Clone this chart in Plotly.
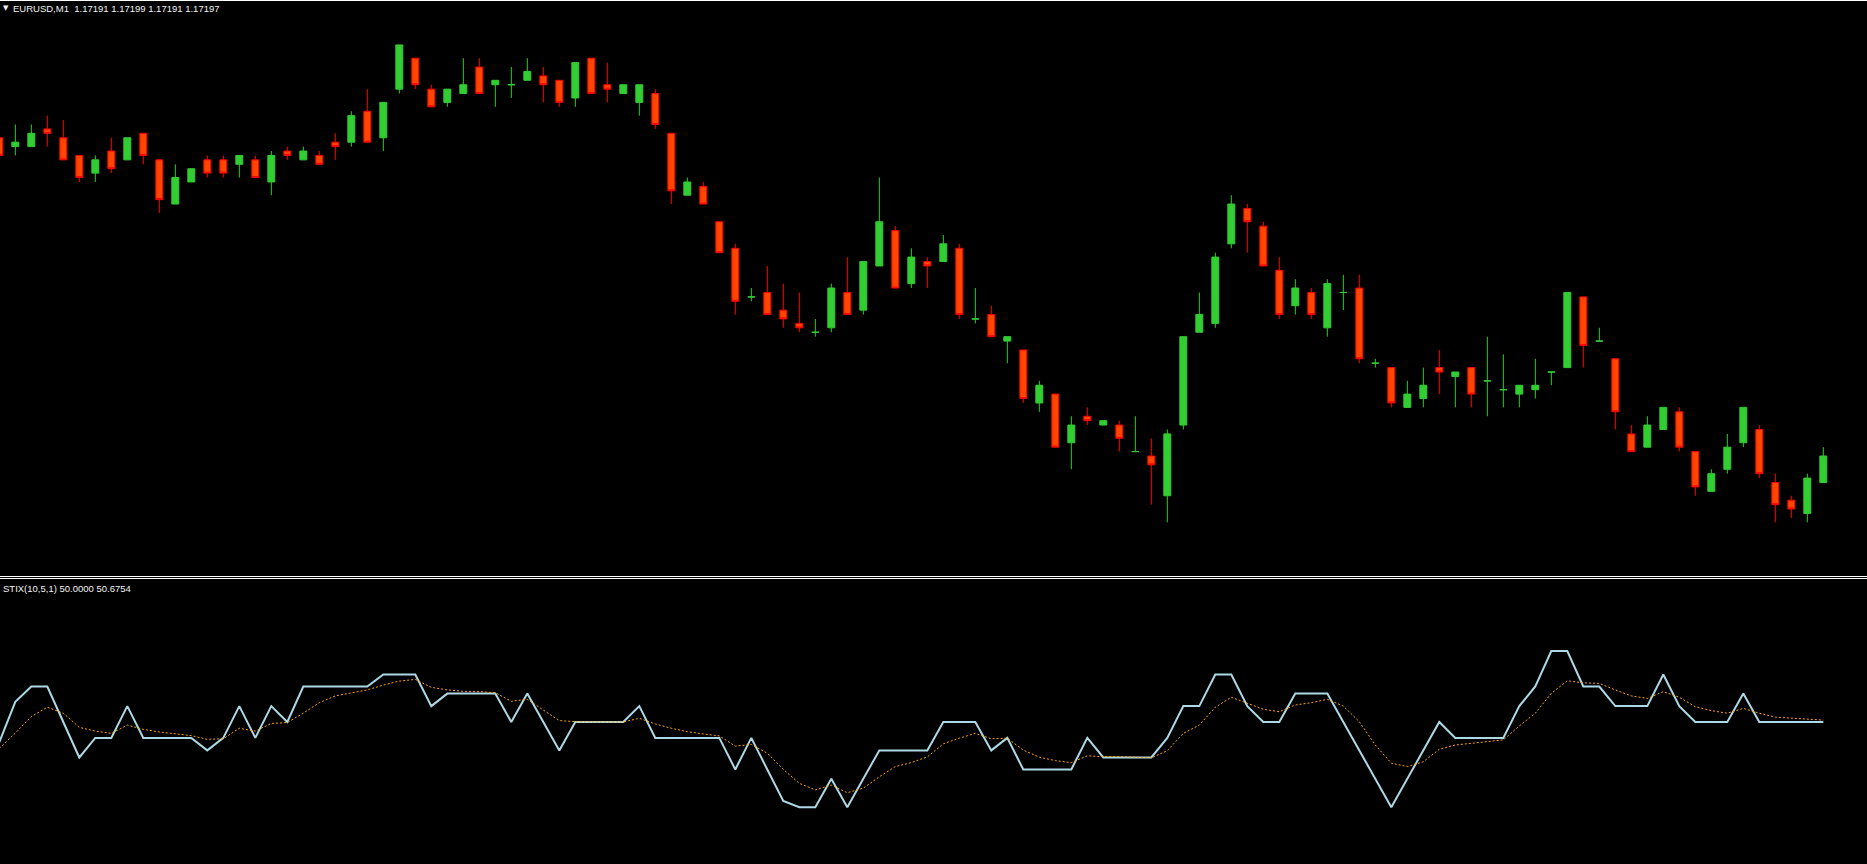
import plotly.graph_objects as go

# ---------------- data (EURUSD M1) ----------------
open_ = [1.17269, 1.17267, 1.17267, 1.17271, 1.17269, 1.17265, 1.17261, 1.17266, 1.17264, 1.17270,
         1.17264, 1.17254, 1.17259, 1.17264, 1.17264, 1.17263, 1.17264, 1.17259, 1.17266, 1.17264,
         1.17265, 1.17268, 1.17268, 1.17275, 1.17269, 1.17280, 1.17287, 1.17280, 1.17277, 1.17279,
         1.17285, 1.17281, 1.17281, 1.17282, 1.17283, 1.17282, 1.17278, 1.17287, 1.17281, 1.17279,
         1.17277, 1.17279, 1.17270, 1.17256, 1.17258, 1.17250, 1.17244, 1.17233, 1.17234, 1.17230,
         1.17227, 1.17225, 1.17226, 1.17234, 1.17230, 1.17240, 1.17248, 1.17236, 1.17241, 1.17241,
         1.17244, 1.17228, 1.17229, 1.17223, 1.17221, 1.17209, 1.17211, 1.17200, 1.17206, 1.17204,
         1.17204, 1.17198, 1.17197, 1.17188, 1.17204, 1.17225, 1.17227, 1.17245, 1.17253, 1.17249,
         1.17239, 1.17231, 1.17234, 1.17226, 1.17234, 1.17235, 1.17218, 1.17217, 1.17208, 1.17210,
         1.17217, 1.17215, 1.17217, 1.17214, 1.17212, 1.17211, 1.17212, 1.17216, 1.17217, 1.17233,
         1.17223, 1.17219, 1.17202, 1.17199, 1.17203, 1.17207, 1.17198, 1.17189, 1.17194, 1.17200,
         1.17203, 1.17191, 1.17187, 1.17184, 1.17191]

high = [1.17269, 1.17272, 1.17272, 1.17274, 1.17273, 1.17265, 1.17265, 1.17269, 1.17269, 1.17270,
        1.17264, 1.17263, 1.17262, 1.17265, 1.17265, 1.17265, 1.17265, 1.17266, 1.17267, 1.17267,
        1.17266, 1.17270, 1.17275, 1.17280, 1.17277, 1.17290, 1.17287, 1.17281, 1.17280, 1.17287,
        1.17287, 1.17282, 1.17285, 1.17287, 1.17285, 1.17282, 1.17286, 1.17287, 1.17286, 1.17281,
        1.17281, 1.17280, 1.17270, 1.17260, 1.17259, 1.17250, 1.17245, 1.17235, 1.17240, 1.17236,
        1.17234, 1.17228, 1.17236, 1.17242, 1.17241, 1.17260, 1.17249, 1.17244, 1.17242, 1.17247,
        1.17245, 1.17235, 1.17231, 1.17224, 1.17221, 1.17214, 1.17211, 1.17206, 1.17208, 1.17205,
        1.17205, 1.17206, 1.17201, 1.17203, 1.17224, 1.17234, 1.17243, 1.17256, 1.17254, 1.17250,
        1.17242, 1.17237, 1.17235, 1.17237, 1.17238, 1.17238, 1.17219, 1.17217, 1.17214, 1.17217,
        1.17221, 1.17216, 1.17217, 1.17224, 1.17220, 1.17213, 1.17219, 1.17216, 1.17234, 1.17233,
        1.17226, 1.17219, 1.17204, 1.17206, 1.17208, 1.17208, 1.17198, 1.17194, 1.17202, 1.17208,
        1.17204, 1.17193, 1.17188, 1.17193, 1.17199]

low = [1.17265, 1.17265, 1.17267, 1.17267, 1.17264, 1.17259, 1.17259, 1.17261, 1.17264, 1.17263,
       1.17252, 1.17254, 1.17259, 1.17260, 1.17260, 1.17260, 1.17260, 1.17256, 1.17264, 1.17264,
       1.17263, 1.17264, 1.17267, 1.17268, 1.17266, 1.17279, 1.17280, 1.17276, 1.17276, 1.17279,
       1.17279, 1.17276, 1.17278, 1.17282, 1.17277, 1.17276, 1.17276, 1.17279, 1.17277, 1.17279,
       1.17274, 1.17271, 1.17254, 1.17256, 1.17254, 1.17243, 1.17229, 1.17232, 1.17229, 1.17226,
       1.17225, 1.17224, 1.17225, 1.17229, 1.17229, 1.17240, 1.17235, 1.17235, 1.17235, 1.17241,
       1.17228, 1.17227, 1.17224, 1.17218, 1.17209, 1.17207, 1.17199, 1.17194, 1.17204, 1.17204,
       1.17198, 1.17198, 1.17186, 1.17182, 1.17203, 1.17225, 1.17226, 1.17244, 1.17243, 1.17240,
       1.17228, 1.17229, 1.17228, 1.17224, 1.17230, 1.17218, 1.17217, 1.17208, 1.17208, 1.17208,
       1.17211, 1.17208, 1.17208, 1.17206, 1.17208, 1.17208, 1.17210, 1.17213, 1.17217, 1.17217,
       1.17223, 1.17203, 1.17198, 1.17199, 1.17203, 1.17198, 1.17188, 1.17189, 1.17193, 1.17199,
       1.17192, 1.17182, 1.17183, 1.17182, 1.17191]

close = [1.17265, 1.17268, 1.17270, 1.17270, 1.17264, 1.17260, 1.17264, 1.17262, 1.17269, 1.17265,
         1.17255, 1.17260, 1.17262, 1.17261, 1.17261, 1.17265, 1.17260, 1.17265, 1.17265, 1.17266,
         1.17263, 1.17267, 1.17274, 1.17268, 1.17277, 1.17290, 1.17281, 1.17276, 1.17280, 1.17281,
         1.17279, 1.17282, 1.17281, 1.17284, 1.17281, 1.17277, 1.17286, 1.17279, 1.17280, 1.17281,
         1.17281, 1.17272, 1.17257, 1.17259, 1.17254, 1.17243, 1.17232, 1.17233, 1.17229, 1.17228,
         1.17226, 1.17225, 1.17235, 1.17229, 1.17241, 1.17250, 1.17235, 1.17242, 1.17240, 1.17245,
         1.17229, 1.17228, 1.17224, 1.17224, 1.17210, 1.17213, 1.17199, 1.17204, 1.17205, 1.17205,
         1.17201, 1.17198, 1.17195, 1.17202, 1.17224, 1.17229, 1.17242, 1.17254, 1.17250, 1.17240,
         1.17229, 1.17235, 1.17229, 1.17236, 1.17234, 1.17219, 1.17218, 1.17209, 1.17211, 1.17213,
         1.17216, 1.17216, 1.17211, 1.17214, 1.17212, 1.17213, 1.17213, 1.17216, 1.17234, 1.17222,
         1.17223, 1.17207, 1.17198, 1.17204, 1.17208, 1.17199, 1.17190, 1.17193, 1.17199, 1.17208,
         1.17193, 1.17186, 1.17185, 1.17192, 1.17197]

stix_main = [42.9, 57.1, 62.5, 62.5, 50.0, 37.5, 44.4, 44.4, 55.6, 44.4,
             44.4, 44.4, 44.4, 40.0, 44.4, 55.6, 44.4, 55.6, 50.0, 62.5,
             62.5, 62.5, 62.5, 62.5, 66.7, 66.7, 66.7, 55.6, 60.0, 60.0,
             60.0, 60.0, 50.0, 60.0, 50.0, 40.0, 50.0, 50.0, 50.0, 50.0,
             55.6, 44.4, 44.4, 44.4, 44.4, 44.4, 33.3, 44.4, 33.3, 22.2,
             20.0, 20.0, 30.0, 20.0, 30.0, 40.0, 40.0, 40.0, 40.0, 50.0,
             50.0, 50.0, 40.0, 44.4, 33.3, 33.3, 33.3, 33.3, 44.4, 37.5,
             37.5, 37.5, 37.5, 44.4, 55.6, 55.6, 66.7, 66.7, 55.6, 50.0,
             50.0, 60.0, 60.0, 60.0, 50.0, 40.0, 30.0, 20.0, 30.0, 40.0,
             50.0, 44.4, 44.4, 44.4, 44.4, 55.6, 62.5, 75.0, 75.0, 62.5,
             62.5, 55.6, 55.6, 55.6, 66.7, 55.6, 50.0, 50.0, 50.0, 60.0,
             50.0, 50.0, 50.0, 50.0, 50.0]

stix_signal = [40.7, 46.1, 51.9, 55.2, 53.1, 48.1, 46.8, 46.0, 48.9, 47.4,
               46.5, 45.8, 45.2, 43.9, 44.1, 47.8, 46.8, 49.5, 49.8, 53.1,
               56.8, 59.2, 60.3, 61.3, 63.0, 64.4, 65.0, 62.2, 61.3, 60.8,
               60.7, 60.3, 57.3, 58.0, 54.2, 50.5, 50.1, 50.0, 50.0, 50.0,
               51.3, 49.3, 47.8, 46.6, 45.8, 45.1, 41.5, 42.1, 39.0, 33.3,
               28.4, 26.1, 27.8, 25.1, 26.7, 30.7, 34.3, 35.7, 37.7, 42.3,
               44.3, 46.0, 44.1, 44.3, 40.1, 37.6, 36.4, 35.7, 38.1, 37.8,
               37.8, 37.6, 37.4, 39.9, 46.0, 48.9, 55.2, 58.7, 56.6, 54.5,
               53.6, 56.0, 56.8, 58.0, 55.6, 50.1, 41.9, 35.5, 34.3, 36.0,
               40.4, 41.9, 42.5, 43.1, 43.7, 48.6, 53.1, 60.1, 64.5, 63.8,
               63.6, 61.3, 59.2, 58.3, 60.7, 58.7, 55.4, 54.0, 53.1, 54.8,
               53.1, 51.7, 51.3, 50.9, 50.6754]

symbol = "EURUSD,M1"
indicator_label = "STIX(10,5,1)"

# ---------------- figure ----------------
W, H = 1867, 864
GREEN = "#32CD32"
RED_LINE = "#FF0000"
RED_FILL = "#FF4500"
TEXT = "#F2F2F2"

n = len(open_)
xs = list(range(n))
bull = [i for i in xs if close[i] >= open_[i]]
bear = [i for i in xs if close[i] < open_[i]]


def pick(arr, idx):
    return [arr[i] for i in idx]


def style(line_color, fill):
    return dict(line=dict(color=line_color, width=1), fillcolor=fill)


fig = go.Figure()
fig.add_trace(go.Candlestick(
    x=bull, open=pick(open_, bull), high=pick(high, bull), low=pick(low, bull), close=pick(close, bull),
    increasing=style(GREEN, GREEN), decreasing=style(GREEN, GREEN),
    whiskerwidth=0, xaxis="x", yaxis="y", hoverinfo="skip"))
fig.add_trace(go.Candlestick(
    x=bear, open=pick(open_, bear), high=pick(high, bear), low=pick(low, bear), close=pick(close, bear),
    increasing=style(RED_LINE, RED_FILL), decreasing=style(RED_LINE, RED_FILL),
    whiskerwidth=0, xaxis="x", yaxis="y", hoverinfo="skip"))

fig.add_trace(go.Scatter(x=xs, y=stix_main, mode="lines", xaxis="x", yaxis="y2",
                         line=dict(color="#ADD8E6", width=2), hoverinfo="skip"))
fig.add_trace(go.Scatter(x=xs, y=stix_signal, mode="lines", xaxis="x", yaxis="y2",
                         line=dict(color="#FFA500", width=1, dash="2px,2px"), hoverinfo="skip"))


def py(pix):
    """pixel row (from top) -> paper fraction"""
    return (H - pix) / H


# pixel geometry of the two panes
MAIN_TOP, MAIN_BOT = 1, 575
SUB_TOP = 580
PX_PER_POINT = 4.42
REF_PRICE, REF_PIX = close[-1], 456
x0 = 0.04375
x1 = x0 + W / 16.0

fig.update_layout(
    width=W, height=H, autosize=False,
    margin=dict(l=0, r=0, t=0, b=0),
    paper_bgcolor="black", plot_bgcolor="black",
    showlegend=False, boxgap=0.38,
    xaxis=dict(range=[x0, x1], visible=False, rangeslider=dict(visible=False), fixedrange=True),
    yaxis=dict(domain=[py(MAIN_BOT), py(MAIN_TOP)],
               range=[REF_PRICE - (MAIN_BOT - REF_PIX) / PX_PER_POINT * 1e-5,
                      REF_PRICE + (REF_PIX - MAIN_TOP) / PX_PER_POINT * 1e-5],
               visible=False, fixedrange=True),
    yaxis2=dict(domain=[0, py(SUB_TOP)], range=[0, 100], visible=False, anchor="x", fixedrange=True),
)

line_rows = [0.5, 576.5, 578.5]
for r in line_rows:
    fig.add_shape(type="line", xref="paper", yref="paper", x0=0, x1=1, y0=py(r), y1=py(r),
                  line=dict(color="white", width=1))

font = dict(family="Liberation Sans, Arial, sans-serif", size=9.5, color=TEXT)
header = symbol + "\u00a0\u00a0" + " ".join(f"{v:.5f}" for v in (open_[-1], high[-1], low[-1], close[-1]))
fig.add_annotation(text="\u25bc", x=2 / W, y=py(8.5), xref="paper", yref="paper",
                   xanchor="left", yanchor="middle", showarrow=False,
                   font=dict(family="DejaVu Sans", size=7, color=TEXT), borderpad=0)
fig.add_annotation(text=header, x=12 / W, y=py(8.5), xref="paper", yref="paper",
                   xanchor="left", yanchor="middle", showarrow=False, font=font, borderpad=0)
sub_text = f"{indicator_label} {stix_main[-1]:.4f} {stix_signal[-1]:.4f}"
fig.add_annotation(text=sub_text, x=2 / W, y=py(588), xref="paper", yref="paper",
                   xanchor="left", yanchor="middle", showarrow=False, font=font, borderpad=0)

page_css = ("document.documentElement.style.background='black';"
            "document.body.style.margin='0';"
            "document.body.style.background='black';"
            "document.body.style.overflow='hidden';")
fig.write_html("out.html", config={"displayModeBar": False}, post_script=page_css)
